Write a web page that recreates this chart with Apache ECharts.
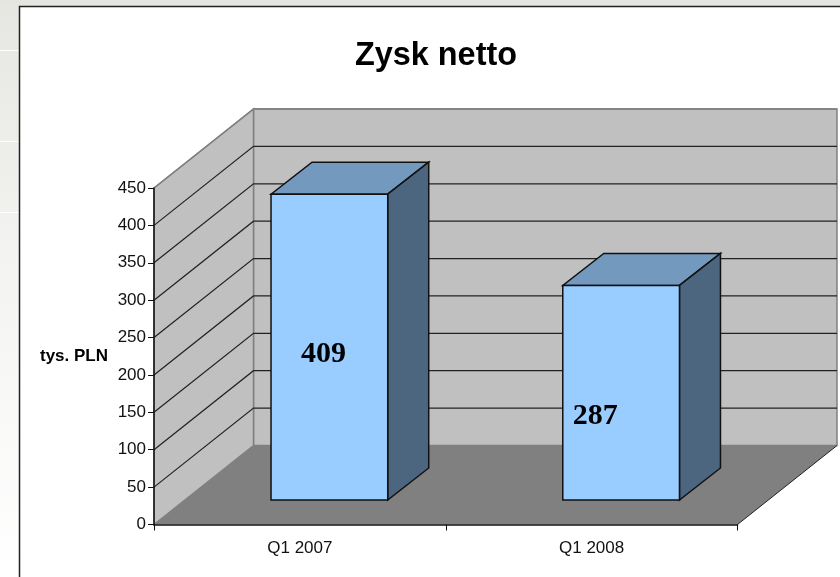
<!DOCTYPE html>
<html>
<head>
<meta charset="utf-8">
<title>Zysk netto</title>
<style>
html, body { margin: 0; padding: 0; background: #fff; }
#main { width: 840px; height: 577px; }
</style>
<script src="https://cdn.jsdelivr.net/npm/echarts@6/dist/echarts.min.js"></script>
</head>
<body>
<div id="main"></div>
<script>
var categories = ['Q1 2007', 'Q1 2008'];
var zysk = [409, 287];
var valueTicks = [50, 100, 150, 200, 250, 300, 350, 400, 450];

// glebia wykresu 3D w pikselach
var depthX = 99.5;
var depthY = -79;
// gdzie w glebi stoi slupek i jak gruby jest
var barOffset = [29.5, -24.5];
var barDepth = [41, -32];
var barShare = 0.4;
// przesuniecie etykiet wzgledem srodka przedniej sciany
var labelShift = [[-6, 7], [-26, 24]];

var chart = echarts.init(document.getElementById('main'));

function poly(points, fill, stroke, width) {
    return {
        type: 'polygon',
        shape: {points: points},
        style: {fill: fill, stroke: stroke || null, lineWidth: width || 0, lineJoin: 'miter'}
    };
}

function line(points, color, width) {
    return {
        type: 'polyline',
        shape: {points: points},
        style: {fill: null, stroke: color, lineWidth: width}
    };
}

function renderWalls(params, api) {
    var g = params.coordSys;
    var x0 = g.x, x1 = g.x + g.width;
    var y0 = api.coord([0, 0])[1], yTop = api.coord([0, 450])[1];
    var bx = x0 + depthX, bx1 = x1 + depthX;
    return {
        type: 'group',
        children: [
            poly([[bx, yTop + depthY], [bx1, yTop + depthY], [bx1, y0 + depthY], [bx, y0 + depthY]], '#c0c0c0', '#808080', 1.5),
            poly([[x0, y0], [x0, yTop], [bx, yTop + depthY], [bx, y0 + depthY]], '#c0c0c0', '#808080', 1.5),
            poly([[x0, y0], [x1, y0], [bx1, y0 + depthY], [bx, y0 + depthY]], '#808080'),
            line([[x1, y0], [bx1, y0 + depthY]], '#222', 1)
        ]
    };
}

function renderGrid(params, api) {
    var g = params.coordSys;
    var v = api.value(0);
    var y = api.coord([0, v])[1];
    var color = v === 450 ? '#808080' : '#222';
    return line([
        [g.x, y],
        [g.x + depthX, y + depthY],
        [g.x + g.width + depthX, y + depthY]
    ], color, v === 450 ? 1.5 : 1.2);
}

function renderBar(params, api) {
    var i = api.value(0);
    var v = api.value(1);
    var base = api.coord([i, 0]);
    var top = api.coord([i, v]);
    var w = api.size([1, 0])[0] * barShare;
    var left = base[0] - w / 2 + barOffset[0];
    var right = left + w;
    var bottomY = base[1] + barOffset[1];
    var topY = top[1] + barOffset[1];
    var sx = barDepth[0];
    var sy = barDepth[1];
    var shift = labelShift[i];
    return {
        type: 'group',
        children: [
            poly([[left, topY], [right, topY], [right + sx, topY + sy], [left + sx, topY + sy]], '#7399bf', '#111', 1.5),
            poly([[right, topY], [right + sx, topY + sy], [right + sx, bottomY + sy], [right, bottomY]], '#4d6680', '#111', 1.5),
            poly([[left, topY], [right, topY], [right, bottomY], [left, bottomY]], '#99ccff', '#111', 1.5),
            {
                type: 'text',
                style: {
                    x: (left + right) / 2 + shift[0],
                    y: (topY + bottomY) / 2 + shift[1],
                    text: String(v),
                    fill: '#000',
                    font: 'bold 30px "Liberation Serif"',
                    align: 'center',
                    verticalAlign: 'middle'
                }
            }
        ]
    };
}

var zyskData = [];
for (var i = 0; i < zysk.length; i++) {
    zyskData.push([i, zysk[i]]);
}

var option = {
    animation: false,
    backgroundColor: '#fff',
    textStyle: {fontFamily: '"Liberation Sans"'},
    title: {
        text: 'Zysk netto',
        left: 350,
        top: 35,
        textStyle: {fontSize: 32.4, fontWeight: 'bold', color: '#000', fontFamily: '"Liberation Sans"'}
    },
    grid: {left: 154, top: 188, width: 583.5, height: 336.5, containLabel: false},
    xAxis: {
        type: 'category',
        data: categories,
        z: 5,
        axisLine: {lineStyle: {color: '#111', width: 1.5}},
        axisTick: {show: true, alignWithLabel: false, length: 6, lineStyle: {color: '#111', width: 1}},
        axisLabel: {color: '#111', fontSize: 17, margin: 15}
    },
    yAxis: {
        type: 'value',
        min: 0,
        max: 450,
        interval: 50,
        z: 5,
        name: 'tys. PLN',
        nameLocation: 'middle',
        nameRotate: 0,
        nameGap: 46,
        nameTextStyle: {color: '#000', fontSize: 17, fontWeight: 'bold', align: 'right', verticalAlign: 'middle'},
        splitLine: {show: false},
        axisLine: {show: true, lineStyle: {color: '#111', width: 1.5}},
        axisTick: {show: true, length: 6, lineStyle: {color: '#111', width: 1}},
        axisLabel: {color: '#111', fontSize: 17, margin: 8}
    },
    graphic: [
        {
            type: 'rect', z: -2, silent: true,
            shape: {x: 0, y: 0, width: 840, height: 577},
            style: {
                fill: {
                    type: 'linear', x: 0, y: 0, x2: 0, y2: 1,
                    colorStops: [
                        {offset: 0, color: '#e6e7e2'},
                        {offset: 0.45, color: '#f3f3f1'},
                        {offset: 1, color: '#ffffff'}
                    ]
                }
            }
        },
        {type: 'rect', z: -2, silent: true, shape: {x: 0, y: 0, width: 840, height: 6}, style: {fill: '#e6e6e1'}},
        {type: 'rect', z: -2, silent: true, shape: {x: 0, y: 50, width: 19, height: 1}, style: {fill: '#fff'}},
        {type: 'rect', z: -2, silent: true, shape: {x: 0, y: 141, width: 19, height: 1}, style: {fill: '#fff'}},
        {type: 'rect', z: -2, silent: true, shape: {x: 0, y: 212, width: 19, height: 1}, style: {fill: '#fff'}},
        {type: 'rect', z: -1, silent: true, shape: {x: 19.5, y: 6.5, width: 830, height: 580}, style: {fill: '#fff', stroke: '#222', lineWidth: 1.5}}
    ],
    series: [
        {type: 'custom', name: 'sciany', z: 1, silent: true, data: [[0]], renderItem: renderWalls},
        {
            type: 'custom', name: 'siatka', z: 2, silent: true,
            data: valueTicks.map(function (v) { return [v]; }),
            encode: {y: 0},
            renderItem: renderGrid
        },
        {
            type: 'custom', name: 'Zysk netto', z: 3, silent: true,
            data: zyskData,
            encode: {x: 0, y: 1},
            renderItem: renderBar
        }
    ]
};

chart.setOption(option);
</script>
</body>
</html>
